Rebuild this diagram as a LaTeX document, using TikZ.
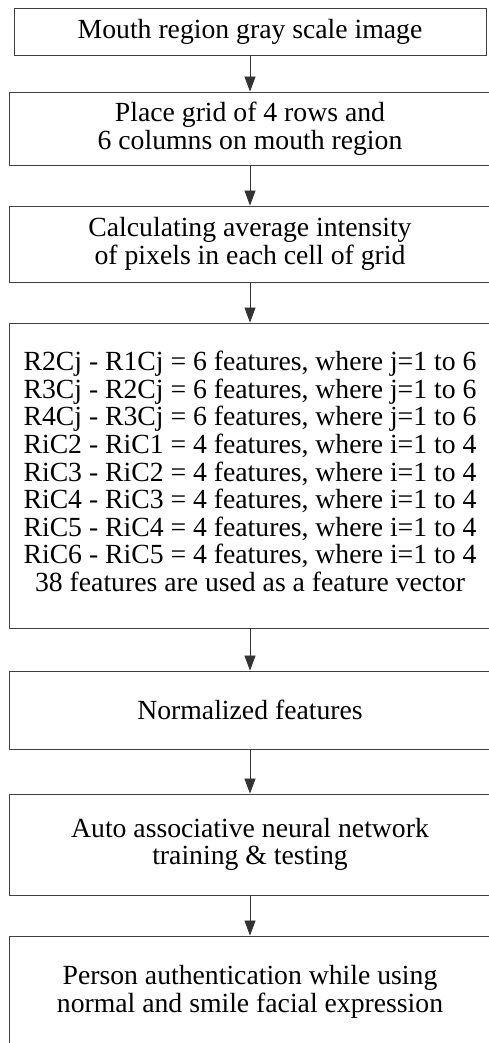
\documentclass[tikz,border=0pt]{standalone}
\usepackage{fontspec}
\setmainfont{Liberation Serif}
\usetikzlibrary{arrows.meta}
\begin{document}
\begin{tikzpicture}[x=1pt,y=-1pt,
  txt/.style={align=center, inner sep=0pt, font=\fontsize{27.7}{27.6}\selectfont, text=black},
  box/.style={draw=black!75, line width=0.9pt, rectangle, txt},
  arr/.style={draw=black!80, line width=0.8pt, -{Triangle[width=11pt,length=15pt]}}]
\useasboundingbox (0,0) rectangle (489,1043);
\clip (0,0) rectangle (489,1043);
\fill[white] (0,0) rectangle (489,1043);
\node[box, minimum width=472pt, minimum height=47pt] (b1) at (250,31.5) {Mouth region gray scale image};
\node[box, minimum width=482pt, minimum height=73pt] (b2) at (250,128.5) {Place grid of 4 rows and\\6 columns on mouth region};
\node[box, minimum width=482pt, minimum height=76pt] (b3) at (250,244) {Calculating average intensity\\of pixels in each cell of grid};
\node[box, minimum width=482pt, minimum height=305pt] (b4) at (250,475.5) {};
\node[txt] (t4) at ([yshift=4pt]b4.center) {R2Cj - R1Cj = 6 features, where j=1 to 6\\R3Cj - R2Cj = 6 features, where j=1 to 6\\R4Cj - R3Cj = 6 features, where j=1 to 6\\RiC2 - RiC1 = 4 features, where i=1 to 4\\RiC3 - RiC2 = 4 features, where i=1 to 4\\RiC4 - RiC3 = 4 features, where i=1 to 4\\RiC5 - RiC4 = 4 features, where i=1 to 4\\RiC6 - RiC5 = 4 features, where i=1 to 4\\38 features are used as a feature vector};
\node[box, minimum width=482pt, minimum height=78pt] (b5) at (250,710) {Normalized features};
\node[box, minimum width=482pt, minimum height=101pt] (b6) at (250,844.5) {Auto associative neural network\\training \& testing};
\node[box, minimum width=482pt, minimum height=112pt] (b7) at (250,992) {Person authentication while using\\normal and smile facial expression};
\draw[arr] (b1) -- (b2);
\draw[arr] (b2) -- (b3);
\draw[arr] (b3) -- (b4);
\draw[arr] (b4) -- (b5);
\draw[arr] (b5) -- (b6);
\draw[arr] (b6) -- (b7);
\end{tikzpicture}
\end{document}
